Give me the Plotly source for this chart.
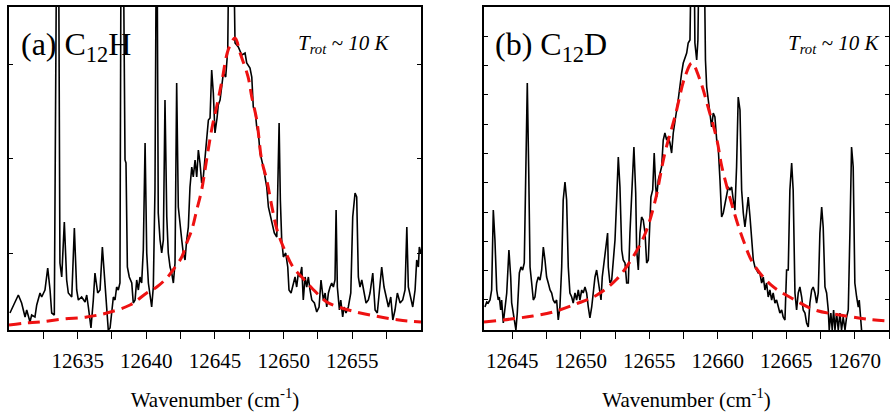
import plotly.graph_objects as go

# ---------------- Panel (a) C12H ----------------
wn_a = [12630.07, 12630.68, 12630.92, 12631.17, 12631.29, 12631.53, 12631.65, 12631.89, 12632.02, 12632.26,
        12632.38, 12632.62, 12632.82, 12632.99, 12633.11, 12633.30, 12633.47, 12633.61, 12633.71, 12633.84,
        12634.03, 12634.20, 12634.32, 12634.57, 12634.76, 12634.93, 12635.05, 12635.29, 12635.54, 12635.66,
        12635.78, 12635.97, 12636.14, 12636.26, 12636.46, 12636.63, 12636.80, 12636.99, 12637.23, 12637.36,
        12637.60, 12637.72, 12637.84, 12637.96, 12638.08, 12638.16, 12638.32, 12638.45, 12638.52, 12638.62,
        12638.76, 12638.94, 12639.05, 12639.18, 12639.30, 12639.42, 12639.54, 12639.66, 12639.78, 12639.91,
        12640.03, 12640.15, 12640.27, 12640.39, 12640.51, 12640.63, 12640.73, 12640.78, 12640.87, 12641.00,
        12641.12, 12641.24, 12641.36, 12641.49, 12641.60, 12641.73, 12641.85, 12641.97, 12642.09, 12642.21,
        12642.33, 12642.45, 12642.58, 12642.69, 12642.82, 12642.94, 12643.06, 12643.18, 12643.31, 12643.42,
        12643.55, 12643.67, 12643.79, 12643.91, 12644.03, 12644.15, 12644.27, 12644.40, 12644.52, 12644.64,
        12644.76, 12644.88, 12645.00, 12645.15, 12645.24, 12645.37, 12645.61, 12645.78, 12645.93, 12646.02,
        12646.34, 12646.46, 12646.70, 12646.95, 12647.19, 12647.31, 12647.55, 12647.68, 12647.79, 12647.92,
        12648.04, 12648.16, 12648.28, 12648.52, 12648.77, 12648.89, 12649.13, 12649.32, 12649.50, 12649.57,
        12649.67, 12649.76, 12649.86, 12649.98, 12650.15, 12650.30, 12650.39, 12650.54, 12650.71, 12650.83,
        12650.95, 12651.07, 12651.19, 12651.32, 12651.43, 12651.56, 12651.68, 12651.80, 12651.92, 12652.05,
        12652.24, 12652.41, 12652.58, 12652.72, 12652.89, 12653.02, 12653.14, 12653.26, 12653.38, 12653.50,
        12653.62, 12653.74, 12653.82, 12653.91, 12654.06, 12654.16, 12654.30, 12654.40, 12654.54, 12654.71,
        12654.89, 12655.03, 12655.20, 12655.32, 12655.44, 12655.56, 12655.69, 12655.80, 12656.00, 12656.17,
        12656.29, 12656.49, 12656.66, 12656.82, 12656.97, 12657.14, 12657.31, 12657.51, 12657.63, 12657.80,
        12657.95, 12658.11, 12658.28, 12658.48, 12658.67, 12658.84, 12658.97, 12659.08, 12659.26, 12659.40,
        12659.57, 12659.69, 12659.81, 12659.88, 12660.00]
int_a = [17, 35, 27, 13, 20, 8, 15, 13, 25, 37,
         33, 40, 62, 40, 17, 15, 400, 400, 67, 53,
         108, 50, 37, 33, 102, 40, 30, 33, 28, 35,
         23, 2, 30, 57, 37, 40, 83, 47, 0, 2,
         33, 30, 43, 40, 47, 400, 400, 170, 167, 63,
         53, 47, 27, 30, 50, 40, 53, 47, 80, 187,
         77, 47, 37, 23, 43, 140, 400, 400, 117, 90,
         77, 90, 230, 113, 77, 63, 57, 47, 67, 247,
         123, 103, 90, 77, 70, 90, 103, 143, 163, 153,
         170, 153, 180, 167, 147, 153, 170, 187, 210, 212,
         260, 237, 197, 212, 225, 230, 257, 253, 280, 400,
         400, 287, 283, 275, 277, 267, 262, 253, 223, 220,
         203, 197, 177, 163, 143, 123, 110, 97, 93, 130,
         207, 130, 90, 73, 77, 63, 40, 37, 47, 53,
         43, 57, 53, 63, 30, 53, 43, 53, 40, 30,
         27, 18, 23, 50, 30, 37, 23, 37, 43, 47,
         43, 50, 120, 43, 20, 30, 13, 23, 17, 23,
         37, 113, 137, 133, 53, 43, 50, 43, 27, 30,
         37, 57, 20, 17, 37, 63, 43, 30, 23, 33,
         10, 20, 37, 27, 30, 40, 103, 43, 33, 23,
         40, 70, 63, 83, 77]
fit_wn_a = [12630.00, 12631.17, 12632.26, 12633.95, 12635.66, 12637.12, 12638.81, 12640.03, 12640.76, 12641.49,
            12641.94, 12642.58, 12642.94, 12643.31, 12643.67, 12644.03, 12644.42, 12644.78, 12645.15, 12645.52,
            12645.96, 12646.46, 12646.83, 12647.41, 12647.68, 12648.04, 12648.40, 12648.77, 12649.15, 12649.52,
            12649.98, 12650.68, 12651.32, 12652.05, 12653.14, 12653.98, 12654.98, 12656.66, 12658.40, 12660.00]
fit_a = [5, 7, 8, 11, 13, 17, 25, 37, 43, 52,
         60, 73, 87, 100, 120, 140, 173, 202, 225, 250,
         280, 292, 277, 253, 233, 210, 170, 150, 123, 100,
         83, 63, 53, 42, 28, 23, 19, 14, 10, 8]

# ---------------- Panel (b) C12D ----------------
wn_b = [12643.01, 12643.14, 12643.25, 12643.38, 12643.50, 12643.62, 12643.74, 12643.87, 12643.98, 12644.06,
        12644.16, 12644.23, 12644.35, 12644.47, 12644.60, 12644.76, 12644.89, 12644.96, 12645.08, 12645.20,
        12645.27, 12645.37, 12645.52, 12645.64, 12645.76, 12645.88, 12646.00, 12646.10, 12646.20, 12646.30,
        12646.42, 12646.54, 12646.66, 12646.78, 12646.90, 12647.03, 12647.15, 12647.27, 12647.39, 12647.51,
        12647.63, 12647.76, 12647.88, 12647.99, 12648.12, 12648.24, 12648.36, 12648.48, 12648.61, 12648.72,
        12648.85, 12648.97, 12649.09, 12649.21, 12649.34, 12649.45, 12649.58, 12649.70, 12649.82, 12649.94,
        12650.07, 12650.18, 12650.31, 12650.43, 12650.55, 12650.67, 12650.80, 12650.91, 12651.04, 12651.16,
        12651.28, 12651.40, 12651.48, 12651.57, 12651.72, 12651.82, 12651.89, 12651.96, 12652.01, 12652.13,
        12652.26, 12652.37, 12652.50, 12652.62, 12652.74, 12652.86, 12652.99, 12653.10, 12653.23, 12653.35,
        12653.47, 12653.59, 12653.72, 12653.88, 12654.01, 12654.08, 12654.20, 12654.32, 12654.44, 12654.56,
        12654.69, 12654.81, 12654.93, 12655.05, 12655.12, 12655.25, 12655.36, 12655.47, 12655.54, 12655.66,
        12655.78, 12655.90, 12656.02, 12656.14, 12656.27, 12656.39, 12656.51, 12656.63, 12656.75, 12656.87,
        12657.00, 12657.11, 12657.24, 12657.36, 12657.48, 12657.60, 12657.73, 12657.84, 12657.97, 12658.09,
        12658.26, 12658.33, 12658.46, 12658.55, 12658.65, 12658.99, 12659.10, 12659.19, 12659.30, 12659.43,
        12659.55, 12659.67, 12659.79, 12659.92, 12660.03, 12660.16, 12660.28, 12660.40, 12660.52, 12660.65,
        12660.76, 12660.89, 12661.01, 12661.13, 12661.25, 12661.37, 12661.49, 12661.62, 12661.74, 12661.86,
        12661.98, 12662.10, 12662.22, 12662.35, 12662.47, 12662.59, 12662.71, 12662.83, 12662.95, 12663.07,
        12663.20, 12663.32, 12663.44, 12663.56, 12663.68, 12663.80, 12663.93, 12664.04, 12664.17, 12664.29,
        12664.41, 12664.53, 12664.66, 12664.77, 12664.90, 12665.02, 12665.14, 12665.26, 12665.39, 12665.50,
        12665.63, 12665.75, 12665.87, 12665.99, 12666.12, 12666.23, 12666.36, 12666.48, 12666.60, 12666.72,
        12666.85, 12666.96, 12667.09, 12667.21, 12667.33, 12667.45, 12667.58, 12667.69, 12667.82, 12667.94,
        12668.06, 12668.13, 12668.25, 12668.35, 12668.45, 12668.55, 12668.67, 12668.79, 12668.91, 12669.03,
        12669.15, 12669.28, 12669.40, 12669.52, 12669.64, 12669.76, 12669.88, 12670.00, 12670.13, 12670.25,
        12670.32, 12670.42, 12670.49]
int_b = [23, 28, 27, 30, 40, 120, 90, 40, 30, 33,
         20, 30, 7, 23, 37, 80, 53, 27, 17, 10,
         0, 17, 57, 63, 60, 67, 163, 247, 163, 63,
         47, 30, 33, 47, 53, 50, 60, 83, 70, 53,
         47, 40, 37, 30, 27, 30, 10, 23, 63, 130,
         148, 130, 63, 37, 33, 27, 37, 30, 40, 30,
         40, 37, 43, 37, 23, 12, 23, 37, 53, 60,
         50, 37, 30, 53, 70, 83, 90, 97, 63, 47,
         50, 70, 90, 130, 173, 143, 80, 70, 67, 47,
         47, 97, 130, 183, 137, 80, 60, 97, 113, 110,
         97, 67, 70, 113, 133, 140, 177, 143, 133, 150,
         157, 163, 190, 197, 190, 193, 187, 177, 197, 210,
         220, 230, 247, 257, 267, 273, 277, 287, 290, 400,
         400, 287, 270, 290, 400, 400, 270, 243, 230, 217,
         203, 217, 213, 190, 183, 150, 113, 117, 127, 137,
         143, 140, 143, 130, 120, 163, 233, 220, 140, 117,
         103, 117, 133, 113, 87, 70, 63, 60, 57, 57,
         47, 53, 40, 47, 33, 40, 30, 37, 27, 30,
         23, 17, 20, 13, 10, 60, 60, 140, 167, 140,
         37, 20, 37, 43, 33, 20, 17, 7, 3, 27,
         40, 43, 37, 27, 37, 97, 123, 103, 43, 37,
         20, 0, 17, 0, 20, 0, 17, 0, 17, 0,
         13, 0, 13, 20, 97, 183, 163, 47, 33, 23,
         30, 13, 0]
fit_wn_b = [12642.94, 12644.91, 12646.51, 12647.97, 12649.65, 12651.18, 12652.64, 12653.81, 12654.69, 12655.41,
            12656.14, 12656.87, 12657.60, 12658.11, 12658.70, 12659.35, 12659.94, 12660.30, 12661.25, 12661.91,
            12662.56, 12663.88, 12665.63, 12667.09, 12668.91, 12670.81, 12672.49]
fit_b = [8, 11, 14, 18, 26, 35, 51, 73, 96, 128,
         177, 213, 253, 267, 250, 220, 190, 163, 115, 88,
         67, 45, 30, 20, 15, 11, 9]

# ---------------- ticks ----------------
xmajor_a = [12635, 12640, 12645, 12650, 12655]
xlab_a = ["12635", "12640", "12645", "12650", "12655"]
xminor_a = [12632.5, 12637.5, 12642.5, 12647.5, 12652.5, 12657.5]
xmajor_b = [12645, 12650, 12655, 12660, 12665, 12670]
xlab_b = ["12645", "12650", "12655", "12660", "12665", "12670"]
xminor_b = [12647.5, 12652.5, 12657.5, 12662.5, 12667.5, 12672.5]
ytick_a = [76.7, 171.2, 265.7]
ytick_b = [30, 59.3, 88.6, 117.9, 147.2, 176.5, 205.8, 235.1, 264.4, 293.7]

xrange_a = [12630, 12660]
xrange_b = [12642.94, 12672.5]
yrange = [0, 323]

SERIF = "'Liberation Serif', 'Times New Roman', Times, 'DejaVu Serif', serif"

fig = go.Figure()
fig.add_trace(go.Scatter(x=wn_a, y=int_a, mode="lines", line=dict(color="black", width=1.6),
                         xaxis="x", yaxis="y", showlegend=False))
fig.add_trace(go.Scatter(x=fit_wn_a, y=fit_a, mode="lines", line=dict(color="#ee1111", width=3, dash="12px,7px", shape="spline"),
                         xaxis="x", yaxis="y", showlegend=False))
fig.add_trace(go.Scatter(x=wn_b, y=int_b, mode="lines", line=dict(color="black", width=1.6),
                         xaxis="x2", yaxis="y2", showlegend=False))
fig.add_trace(go.Scatter(x=fit_wn_b, y=fit_b, mode="lines", line=dict(color="#ee1111", width=3, dash="12px,7px", shape="spline"),
                         xaxis="x2", yaxis="y2", showlegend=False))

ydom = [0.2029, 0.9831]
xdom_a = [0.0101, 0.4730]
xdom_b = [0.5438, 0.9990]

def xax(dom, rng, tv, tt, mv, anchor):
    return dict(domain=dom, range=rng, anchor=anchor, tickmode="array", tickvals=tv, ticktext=tt,
                ticks="outside", ticklen=7, tickwidth=1.2, tickcolor="black",
                minor=dict(tickmode="array", tickvals=mv, ticks="outside", ticklen=7, tickwidth=1.2,
                           tickcolor="black", showgrid=False),
                showline=True, linecolor="black", linewidth=1.5, mirror=True,
                showgrid=False, zeroline=False, ticklabelstandoff=4,
                tickfont=dict(family=SERIF, size=21, color="black"),
                title=dict(text="Wavenumber (cm<sup>-1</sup>)", font=dict(family=SERIF, size=21, color="black"), standoff=20))

def xtop(over, rng, tv, mv, anchor):
    return dict(overlaying=over, side="top", range=rng, anchor=anchor, tickmode="array", tickvals=tv,
                ticks="inside", ticklen=4, tickwidth=1, tickcolor="black", showticklabels=False,
                minor=dict(tickmode="array", tickvals=mv, ticks="inside", ticklen=4, tickwidth=1,
                           tickcolor="black", showgrid=False),
                showline=False, showgrid=False, zeroline=False)

def yax(dom, tv, anchor):
    return dict(domain=dom, range=yrange, anchor=anchor, tickmode="array", tickvals=tv,
                ticks="inside", ticklen=4, tickwidth=1, tickcolor="black", showticklabels=False,
                showline=True, linecolor="black", linewidth=1.5, mirror="ticks",
                showgrid=False, zeroline=False)

fig.update_layout(
    width=890, height=414,
    margin=dict(l=0, r=0, t=0, b=0),
    paper_bgcolor="white", plot_bgcolor="white",
    font=dict(family=SERIF, color="black"),
    xaxis=xax(xdom_a, xrange_a, xmajor_a, xlab_a, xminor_a, "y"),
    yaxis=yax(ydom, ytick_a, "x"),
    xaxis2=xax(xdom_b, xrange_b, xmajor_b, xlab_b, xminor_b, "y2"),
    yaxis2=yax(ydom, ytick_b, "x2"),
    xaxis3=xtop("x", xrange_a, xmajor_a, xminor_a, "y"),
    xaxis4=xtop("x2", xrange_b, xmajor_b, xminor_b, "y2"),
)

ann_font_big = dict(family=SERIF, size=32, color="black")
ann_font_t = dict(family=SERIF, size=21, color="black")
fig.add_annotation(text="(a) C<sub>12</sub>H", xref="paper", yref="paper", x=19 / 890, y=(414 - 47) / 414,
                   xanchor="left", yanchor="middle", showarrow=False, font=ann_font_big)
fig.add_annotation(text="(b) C<sub>12</sub>D", xref="paper", yref="paper", x=493 / 890, y=(414 - 47) / 414,
                   xanchor="left", yanchor="middle", showarrow=False, font=ann_font_big)
fig.add_annotation(text="<i>T</i><sub><i>rot</i></sub><i> ~ 10 K</i>", xref="paper", yref="paper", x=391 / 890, y=(414 - 44) / 414,
                   xanchor="right", yanchor="middle", showarrow=False, font=ann_font_t)
fig.add_annotation(text="<i>T</i><sub><i>rot</i></sub><i> ~ 10 K</i>", xref="paper", yref="paper", x=881 / 890, y=(414 - 44) / 414,
                   xanchor="right", yanchor="middle", showarrow=False, font=ann_font_t)

fig.write_html("out.html")
